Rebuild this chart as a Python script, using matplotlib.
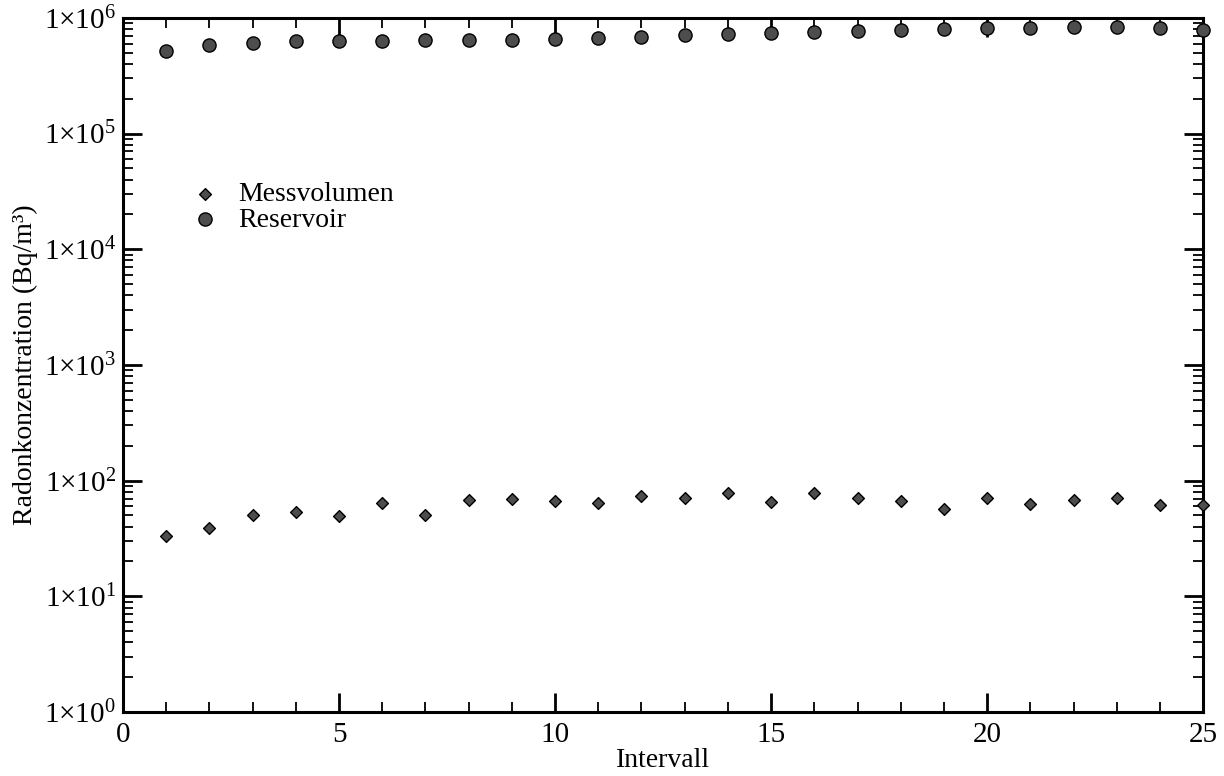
import numpy as np
import matplotlib
matplotlib.use("Agg")
import matplotlib.pyplot as plt
from matplotlib.ticker import FuncFormatter, MultipleLocator, FixedLocator, NullFormatter

# Werte
intervall = np.arange(1, 26)
messvolumen = [33, 39, 50.6, 53.5, 49.3, 63.8, 50, 67.5, 69.7, 66,
               64.3, 73.5, 70.2, 77.4, 65.6, 78.5, 71, 66.5, 57, 70.2,
               62.7, 67.5, 70.2, 61, 61]
reservoir = [5.14e5, 5.8e5, 6.08e5, 6.28e5, 6.28e5, 6.32e5, 6.4e5, 6.45e5, 6.49e5, 6.58e5,
             6.72e5, 6.88e5, 7.06e5, 7.24e5, 7.4e5, 7.5e5, 7.64e5, 7.8e5, 8.07e5, 8.17e5,
             8.2e5, 8.3e5, 8.3e5, 8.17e5, 7.85e5]
dekaden = 10.0 ** np.arange(0, 7)

plt.rcParams['font.family'] = ['Liberation Serif', 'DejaVu Serif']
plt.rcParams['mathtext.fontset'] = 'custom'
plt.rcParams['mathtext.rm'] = 'Liberation Serif'
plt.rcParams['mathtext.it'] = 'Liberation Serif:italic'

fig = plt.figure(figsize=(12.24, 7.76), dpi=100)
ax = fig.add_axes([0.1005, 0.0825, 0.8825, 0.8945])

ax.scatter(intervall, messvolumen, marker='D', s=36, facecolor='#4d4d4d',
           edgecolor='black', linewidths=1.0, label='Messvolumen', zorder=3, clip_on=False)
ax.scatter(intervall, reservoir, marker='o', s=90, facecolor='#4d4d4d',
           edgecolor='black', linewidths=1.0, label='Reservoir', zorder=3, clip_on=False)

ax.set_yscale('log')
ax.set_xlim(0, 25)
ax.set_ylim(1, 1e6)

ax.xaxis.set_major_locator(MultipleLocator(5))
ax.xaxis.set_minor_locator(MultipleLocator(1))
ax.yaxis.set_major_locator(FixedLocator(dekaden))
minor = [d * m for d in dekaden[:-1] for m in range(2, 10)]
ax.yaxis.set_minor_locator(FixedLocator(minor))
ax.yaxis.set_minor_formatter(NullFormatter())
ax.yaxis.set_major_formatter(FuncFormatter(
    lambda v, p: r'$1{\times}10^{%d}$' % int(round(np.log10(v)))))

ax.tick_params(which='both', direction='in', top=True, right=True, labelsize=21)
ax.tick_params(which='major', length=14, width=2)
ax.tick_params(which='minor', length=7, width=1.3)
ax.tick_params(axis='x', pad=7)
ax.tick_params(axis='y', pad=5)
for s in ax.spines.values():
    s.set_linewidth(2.2)

ax.set_xlabel('Intervall', fontsize=20, labelpad=0)
ax.set_ylabel('Radonkonzentration (Bq/m³)', fontsize=20, labelpad=4)

ax.legend(loc='upper left', bbox_to_anchor=(0.04, 0.80), frameon=False,
          fontsize=20, handletextpad=0.7, labelspacing=0.0, handlelength=1.0)

fig.savefig('out.png', dpi=100)
